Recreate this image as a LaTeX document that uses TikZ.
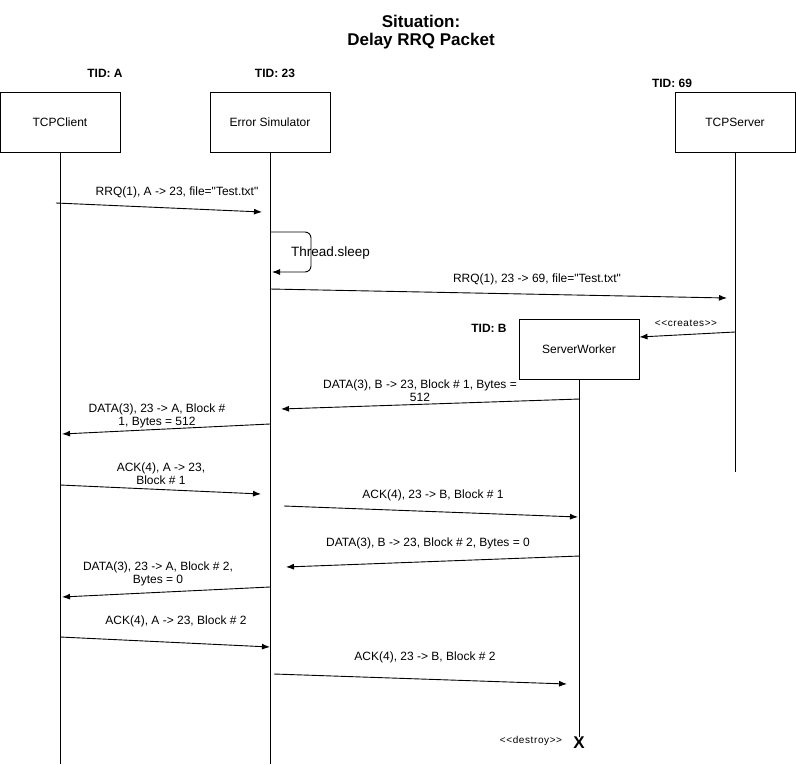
\documentclass[tikz,border=0pt]{standalone}
\usepackage{fontspec}
\setmainfont{Liberation Sans}
\usetikzlibrary{arrows.meta}
\newcommand{\qq}{\XeTeXglyph\XeTeXcharglyph"22\relax}
\begin{document}
\begin{tikzpicture}[x=1pt,y=-1pt,
  lbox/.style={draw,line width=0.9pt,minimum width=120pt,minimum height=60pt,inner sep=0pt,font=\fontsize{12}{14}\selectfont},
  tid/.style={font=\bfseries\fontsize{12}{14}\selectfont},
  life/.style={line width=0.9pt},
  msg/.style={line width=0.9pt,-{Latex[length=8pt,width=6pt]}},
  lbl/.style={font=\fontsize{12}{13}\selectfont,align=center,inner sep=0pt},
  small/.style={font=\fontsize{10}{11}\selectfont\addfontfeature{LetterSpace=6},inner sep=0pt}]
\useasboundingbox (0,0) rectangle (796,764);
% title
\node[font=\bfseries\fontsize{17}{18}\selectfont,align=center] (title) at (421,32) {Situation:\\Delay RRQ Packet};
% TIDs
\node[tid] (tidA) at (105,73) {TID: A};
\node[tid] (tid23) at (275,73) {TID: 23};
\node[tid] (tid69) at (672,83) {TID: 69};
\node[tid] (tidB) at (489,328) {TID: B};
% boxes
\node[lbox] (client) at (60,122) {TCPClient};
\node[lbox] (sim) at (270,122) {Error Simulator};
\node[lbox] (server) at (735,122) {TCPServer};
\node[lbox] (worker) at (579,349) {ServerWorker};
% lifeline ends
\coordinate (clientEnd) at (60,764);
\coordinate (simEnd) at (270,764);
\coordinate (serverEnd) at (735,472);
\node[font=\bfseries\fontsize{17}{18}\selectfont,inner sep=0pt] (x) at (579,743) {X};
\node[small] (destroy) at (531,741) {<{}<destroy>{}>};
\draw[life] (client.south) -- (clientEnd);
\draw[life] (sim.south) -- (simEnd);
\draw[life] (server.south) -- (serverEnd);
\draw[life] (worker.south) -- (x.north);
% message 1
\coordinate (m1s) at (56,203); \coordinate (m1e) at (262,212);
\draw[msg] (m1s) -- (m1e);
\node[lbl] (l1) at (177,192) {RRQ(1), A -> 23, file=\qq Test.txt\qq};
% thread sleep
\coordinate (ts1) at (270,232); \coordinate (ts2) at (272,272);
\draw[msg,rounded corners=6pt] (ts1) -- (311,232) -- (311,272) -- (ts2);
\node[font=\fontsize{13.5}{15}\selectfont,anchor=west,inner sep=0pt] (tsl) at (291,253) {Thread.sleep};
% message 3
\coordinate (m3s) at (270,289); \coordinate (m3e) at (727,298);
\draw[msg] (m3s) -- (m3e);
\node[lbl] (l3) at (537,279) {RRQ(1), 23 -> 69, file=\qq Test.txt\qq};
% creates
\coordinate (m4s) at (735,332);
\draw[msg] (m4s) -- (worker.east |- 0,337);
\node[small] (l4) at (686,323) {<{}<creates>{}>};
% data 1 B->23
\coordinate (m5s) at (580,399); \coordinate (m5e) at (281,409);
\draw[msg] (m5s) -- (m5e);
\node[lbl] (l5) at (420,391) {DATA(3), B -> 23, Block \# 1, Bytes =\\512};
% data 1 23->A
\coordinate (m6s) at (270,424); \coordinate (m6e) at (62,434);
\draw[msg] (m6s) -- (m6e);
\node[lbl] (l6) at (157,416) {DATA(3), 23 -> A, Block \#\\1, Bytes = 512};
% ack 1 A->23
\coordinate (m7s) at (60,485); \coordinate (m7e) at (261,494);
\draw[msg] (m7s) -- (m7e);
\node[lbl] (l7) at (161,474) {ACK(4), A -> 23,\\Block \# 1};
% ack 1 23->B
\coordinate (m8s) at (284,506); \coordinate (m8e) at (578,517);
\draw[msg] (m8s) -- (m8e);
\node[lbl] (l8) at (433,495) {ACK(4), 23 -> B, Block \# 1};
% data 2 B->23
\coordinate (m9s) at (580,556); \coordinate (m9e) at (286,567);
\draw[msg] (m9s) -- (m9e);
\node[lbl] (l9) at (428,543) {DATA(3), B -> 23, Block \# 2, Bytes = 0};
% data 2 23->A
\coordinate (m10s) at (270,587); \coordinate (m10e) at (62,597);
\draw[msg] (m10s) -- (m10e);
\node[lbl] (l10) at (158,574) {DATA(3), 23 -> A, Block \# 2,\\Bytes = 0};
% ack 2 A->23
\coordinate (m11s) at (60,637); \coordinate (m11e) at (270,647);
\draw[msg] (m11s) -- (m11e);
\node[lbl] (l11) at (176,621) {ACK(4), A -> 23, Block \# 2};
% ack 2 23->B
\coordinate (m12s) at (274,674); \coordinate (m12e) at (567,684);
\draw[msg] (m12s) -- (m12e);
\node[lbl] (l12) at (425,657) {ACK(4), 23 -> B, Block \# 2};
\end{tikzpicture}
\end{document}
